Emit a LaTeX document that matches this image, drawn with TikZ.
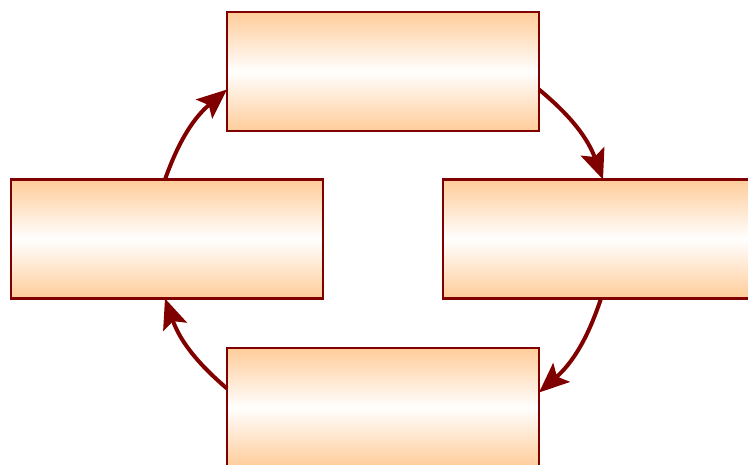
\documentclass[tikz,border=0pt]{standalone}
\usetikzlibrary{arrows.meta}
\definecolor{peach}{RGB}{255,204,153}
\definecolor{darkred}{RGB}{128,0,0}
\begin{document}
\begin{tikzpicture}[x=1pt,y=1pt,
  box/.style={draw=darkred, line width=2.6pt, minimum width=312pt, minimum height=119pt,
    top color=peach, bottom color=peach, middle color=white, inner sep=0pt, outer sep=0pt},
  conn/.style={draw=darkred, line width=4pt, -{Stealth[length=30pt,width=25pt,inset=6pt]}, bend left=15}]
\useasboundingbox (0,0) rectangle (748,-464);
\node[box] (T) at (383,-71.5) {};
\node[box] (L) at (167,-239) {};
\node[box] (R) at (599,-239) {};
\node[box] (B) at (383,-407.5) {};
\draw[conn] ([xshift=-2pt]L.north) to ([yshift=-18pt]T.west);
\draw[conn] ([yshift=-18pt]T.east) to ([xshift=4pt]R.north);
\draw[conn] ([xshift=2pt]R.south) to ([yshift=15pt]B.east);
\draw[conn] ([yshift=19pt]B.west) to ([xshift=-2pt]L.south);
\end{tikzpicture}
\end{document}
